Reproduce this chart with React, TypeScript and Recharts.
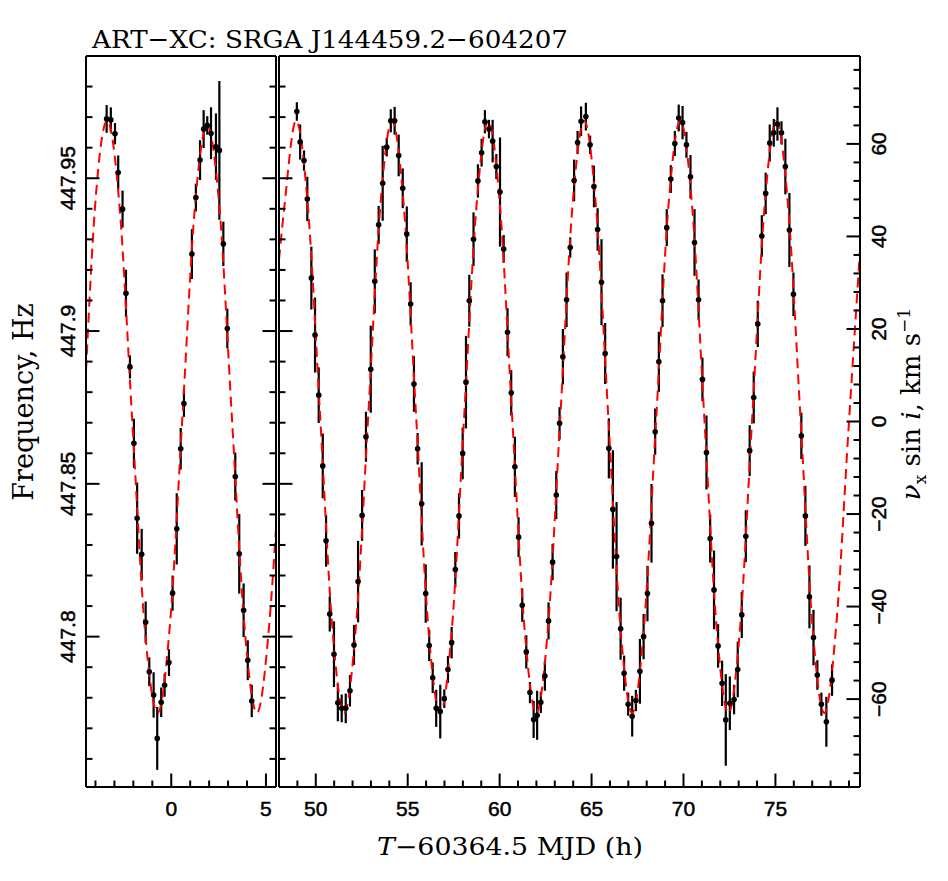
import { ComposedChart, XAxis, YAxis, Scatter, Line, ErrorBar } from "recharts";

// ---- measured points: time (h), velocity (km/s), 1-sigma error (km/s) ----
const leftTime = [
  -3.41, -3.19, -2.97, -2.8, -2.57, -2.39, -2.18, -1.97, -1.8, -1.56, -1.35, -1.16,
  -0.93, -0.74, -0.53, -0.35, -0.12, 0.07, 0.29, 0.5, 0.67, 1.09, 1.3, 1.52, 1.71,
  1.9, 2.1, 2.36, 2.54, 2.75, 2.96, 3.38, 3.59, 3.82, 4.04, 4.25,
];
const leftVel = [
  65.4, 65.2, 62.2, 53.8, 45.9, 27.7, 11.8, -4.7, -20.9, -28.7, -43.4, -54.1,
  -59.1, -68.5, -60.7, -57.0, -52.1, -37.1, -23.2, -5.9, 3.9, 36.2, 48.4, 56.5, 63.2,
  64.0, 62.3, 59.4, 58.6, 38.4, 20.1, -11.9, -28.6, -40.8, -51.6, -60.4,
];
const leftErr = [
  3.0, 2.7, 2.3, 3.7, 4.0, 5.1, 2.5, 5.3, 7.7, 5.5, 4.5, 3.1,
  4.9, 6.8, 3.2, 2.5, 2.9, 3.8, 7.7, 4.5, 2.9, 5.4, 3.0, 4.3, 4.1,
  2.0, 5.6, 7.2, 15.0, 4.8, 4.3, 5.2, 8.6, 5.8, 4.3, 3.5,
];

const rightTime = [
  48.97, 49.15, 49.36, 49.54, 49.76, 49.96, 50.16, 50.38, 50.56, 50.76, 50.99, 51.2,
  51.41, 51.63, 51.86, 52.08, 52.3, 52.52, 52.73, 52.99, 53.21, 53.42, 53.64, 53.86,
  54.08, 54.29, 54.51, 54.73, 54.95, 55.16, 55.34, 55.54, 55.76, 55.98, 56.17, 56.36,
  56.55, 56.77, 56.99, 57.19, 57.39, 57.59, 57.79, 57.99, 58.17, 58.35, 58.58, 58.82,
  59.02, 59.2, 59.42, 59.62, 59.82, 60.02, 60.22, 60.43, 60.63, 60.83, 61.03, 61.23,
  61.45, 61.65, 61.85, 62.04, 62.24, 62.46, 62.66, 62.88, 63.08, 63.26, 63.44, 63.64,
  63.84, 64.05, 64.24, 64.43, 64.69, 64.92, 65.13, 65.33, 65.54, 65.74, 65.94, 66.16,
  66.36, 66.58, 66.77, 66.99, 67.21, 67.41, 67.63, 67.83, 68.04, 68.26, 68.46, 68.66,
  68.86, 69.09, 69.31, 69.53, 69.74, 69.95, 70.16, 70.38, 70.6, 70.82, 71.03, 71.25,
  71.45, 71.66, 71.88, 72.1, 72.3, 72.52, 72.75, 72.95, 73.17, 73.39, 73.6, 73.82,
  74.04, 74.26, 74.47, 74.69, 74.91, 75.11, 75.33, 75.54, 75.76, 75.98, 76.41, 76.63,
  76.85, 77.07, 77.28, 77.5, 77.77, 78.08,
];
const rightVel = [
  67.0, 60.4, 56.4, 48.1, 31.0, 18.7, 5.7, -9.6, -25.8, -41.6, -50.3, -60.8,
  -62.0, -62.0, -58.2, -48.3, -34.6, -20.3, -3.3, 11.3, 30.3, 42.5, 51.5, 59.3,
  65.0, 65.0, 57.5, 50.4, 40.5, 25.4, 8.1, -5.9, -17.8, -37.2, -48.4, -55.4,
  -62.0, -62.7, -59.9, -53.6, -47.8, -32.0, -20.4, -6.9, 8.5, 26.1, 39.4, 52.0,
  58.1, 64.8, 63.2, 60.6, 55.1, 49.6, 37.3, 19.3, 6.2, -9.8, -25.0, -39.7,
  -49.8, -58.6, -64.4, -63.5, -60.7, -55.0, -43.1, -30.4, -15.9, -0.4, 14.0, 26.3,
  37.6, 52.1, 60.3, 64.9, 65.9, 59.8, 50.8, 41.5, 30.1, 14.7, -5.8, -19.0,
  -29.2, -44.8, -54.4, -61.1, -63.7, -60.3, -54.0, -46.5, -37.2, -22.0, -2.2, 12.9,
  26.1, 41.9, 52.4, 60.1, 65.6, 64.6, 59.8, 52.9, 38.7, 26.3, 9.1, -6.7,
  -25.3, -36.4, -48.5, -56.6, -64.5, -60.9, -60.1, -53.6, -41.8, -24.8, -6.3, 5.2,
  21.1, 40.1, 49.3, 60.2, 62.4, 64.3, 62.4, 55.1, 41.4, 27.5, -3.1, -20.4,
  -37.9, -46.7, -54.8, -61.1, -64.9, -55.9,
];
const rightErr = [
  2.0, 3.8, 2.2, 4.8, 6.8, 8.1, 6.0, 7.0, 5.6, 3.8, 7.1, 4.0,
  3.0, 3.2, 3.4, 4.3, 8.8, 5.5, 5.4, 9.4, 6.9, 4.1, 8.1, 2.0,
  2.5, 3.0, 4.5, 4.3, 6.0, 4.7, 6.0, 3.4, 9.0, 6.3, 3.4, 3.3,
  4.0, 5.8, 2.0, 2.9, 3.4, 3.8, 4.9, 5.6, 10.0, 5.6, 5.8, 3.6,
  3.0, 2.5, 2.0, 4.6, 2.7, 11.8, 3.0, 5.2, 4.9, 6.5, 4.3, 3.6,
  3.6, 2.3, 4.0, 5.3, 2.3, 3.2, 4.0, 3.9, 5.2, 3.5, 6.0, 5.9,
  2.2, 4.5, 2.5, 3.2, 3.0, 2.0, 4.5, 4.6, 9.3, 6.6, 6.5, 12.8,
  11.8, 6.7, 3.8, 2.5, 4.4, 2.3, 7.0, 4.9, 6.0, 8.5, 5.0, 6.5,
  5.7, 4.0, 3.0, 2.7, 2.9, 3.6, 2.8, 4.7, 7.2, 4.4, 4.7, 8.0,
  5.2, 8.5, 4.7, 4.9, 9.9, 5.8, 3.2, 6.0, 5.0, 5.6, 5.5, 5.6,
  5.0, 4.5, 4.5, 4.0, 3.0, 3.6, 2.5, 6.0, 8.0, 4.7, 5.0, 6.5,
  6.8, 6.0, 3.2, 2.5, 5.4, 3.4,
];

// ---- orbital model curve ----
const modelLeftTime = [-4.5, -4.03, -3.38, -2.72, -2.07, -1.41, -0.72, -0.07, 0.59, 1.24, 1.89, 2.55, 3.2, 3.86, 4.52, 5.17, 5.55];
const modelLeftVel = [11, 46, 65, 46, 1, -44, -63, -44, 1, 46, 64, 46, 1, -44, -63, -44, -22];
const modelRightTime = [
  48.0, 48.28, 48.93, 49.58, 50.24, 50.89, 51.54, 52.19, 52.85, 53.5, 54.15, 54.8,
  55.46, 56.11, 56.77, 57.42, 58.07, 58.73, 59.38, 60.03, 60.68, 61.34, 61.99, 62.64,
  63.3, 63.95, 64.6, 65.25, 65.91, 66.56, 67.21, 67.86, 68.52, 69.17, 69.83, 70.48,
  71.13, 71.79, 72.44, 73.09, 73.74, 74.4, 75.05, 75.7, 76.36, 77.01, 77.66, 78.31,
  78.97, 79.6,
];
const modelRightVel = [
  35, 46, 65, 46, 1, -44, -63, -44, 1, 46, 65, 46,
  1, -44, -63, -44, 1, 46, 65, 46, 1, -44, -63, -44,
  1, 46, 65, 46, 1, -44, -63, -44, 1, 46, 65, 46,
  1, -44, -63, -44, 1, 46, 65, 46, 1, -44, -63, -44,
  -2, 37,
];

// ---- axes ----
const leftXDomain = [-4.5, 5.53];
const rightXDomain = [48, 79.6];
const velDomain = [-79, 79];
const freqDomain = [447.7508, 447.99];
const leftXTicks = [-4, -3, -2, -1, 0, 1, 2, 3, 4, 5];
const leftXLabels = [0, 5];
const rightXTicks = [
  49, 50, 51, 52, 53, 54, 55, 56, 57, 58, 59, 60, 61, 62, 63, 64, 65, 66, 67, 68, 69,
  70, 71, 72, 73, 74, 75, 76, 77, 78, 79,
];
const rightXLabels = [50, 55, 60, 65, 70, 75];
const freqTicks = [
  447.76, 447.77, 447.78, 447.79, 447.8, 447.81, 447.82, 447.83, 447.84, 447.85, 447.86,
  447.87, 447.88, 447.89, 447.9, 447.91, 447.92, 447.93, 447.94, 447.95, 447.96, 447.97, 447.98,
];
const freqLabels = [447.8, 447.85, 447.9, 447.95];
const velTicks = [
  -76, -72, -68, -64, -60, -56, -52, -48, -44, -40, -36, -32, -28, -24, -20, -16, -12, -8, -4,
  0, 4, 8, 12, 16, 20, 24, 28, 32, 36, 40, 44, 48, 52, 56, 60, 64, 68, 72, 76,
];
const velLabels = [-60, -40, -20, 0, 20, 40, 60];

const rows = (t: number[], v: number[], e?: number[]) =>
  t.map((x, i) => ({ t: x, v: v[i], e: e ? e[i] : 0 }));

const leftPoints = rows(leftTime, leftVel, leftErr);
const rightPoints = rows(rightTime, rightVel, rightErr);
const leftModel = rows(modelLeftTime, modelLeftVel);
const rightModel = rows(modelRightTime, modelRightVel);

const ink = "#000";
const tickFont = {
  fontFamily: "'Liberation Sans', Arial, sans-serif",
  fontSize: 21,
  fill: ink,
  stroke: ink,
  strokeWidth: 0.5,
};
const labelFont = "'DejaVu Serif', serif";
const MAJOR = 13.5;
const MINOR = 6.5;

const fmt = (v: number) => (v < 0 ? "\u2212" + Math.abs(v) : String(v));
const isIn = (list: number[], v: number) => list.some((m) => Math.abs(m - v) < 1e-9);

// ticks point inward, PGPLOT style
const xTick = (labels: number[], side: "top" | "bottom") => (props: any) => {
  const { x, y, payload } = props;
  const major = isIn(labels, payload.value);
  const dir = side === "bottom" ? -1 : 1;
  return (
    <g>
      <line x1={x} x2={x} y1={y} y2={y + dir * (major ? MAJOR : MINOR)} stroke={ink} strokeWidth={2} />
      {major && side === "bottom" && (
        <text x={x} y={y + 21} textAnchor="middle" dominantBaseline="central" style={tickFont}>
          {fmt(payload.value)}
        </text>
      )}
    </g>
  );
};

const yTick = (labels: number[], side: "left" | "right", showText: boolean) => (props: any) => {
  const { x, y, payload } = props;
  const major = isIn(labels, payload.value);
  const dir = side === "left" ? 1 : -1;
  const tx = x - dir * 18.5;
  return (
    <g>
      <line x1={x} x2={x + dir * (major ? MAJOR : MINOR)} y1={y} y2={y} stroke={ink} strokeWidth={2} />
      {major && showText && (
        <text
          x={tx}
          y={y}
          transform={`rotate(-90, ${tx}, ${y})`}
          textAnchor="middle"
          dominantBaseline="central"
          style={tickFont}
        >
          {fmt(payload.value)}
        </text>
      )}
    </g>
  );
};

const frame = { stroke: ink, strokeWidth: 2 };
const dot = (p: any) => <circle cx={p.cx} cy={p.cy} r={2.8} fill={ink} />;

export default function App() {
  return (
    <div style={{ position: "absolute", left: 0, top: 0, width: 948, height: 881, background: "#fff" }}>
      <div style={{ position: "absolute", left: 0, top: 0 }}>
        <ComposedChart width={280} height={881} margin={{ top: 0, right: 0, bottom: 0, left: 0 }}>
          <XAxis xAxisId="b" dataKey="t" type="number" domain={leftXDomain} allowDataOverflow ticks={leftXTicks}
            interval={0} height={94} tickSize={0} tickMargin={0} axisLine={frame} tickLine={false}
            tick={xTick(leftXLabels, "bottom")} />
          <XAxis xAxisId="tp" orientation="top" type="number" domain={leftXDomain} allowDataOverflow ticks={leftXTicks}
            interval={0} height={56} tickSize={0} tickMargin={0} axisLine={frame} tickLine={false}
            tick={xTick(leftXLabels, "top")} />
          <YAxis yAxisId="fl" type="number" domain={freqDomain} allowDataOverflow ticks={freqTicks} interval={0}
            width={86} tickSize={0} tickMargin={0} axisLine={frame} tickLine={false}
            tick={yTick(freqLabels, "left", true)} />
          <YAxis yAxisId="fr" orientation="right" type="number" domain={freqDomain} allowDataOverflow ticks={freqTicks}
            interval={0} width={4} tickSize={0} tickMargin={0} axisLine={frame} tickLine={false}
            tick={yTick(freqLabels, "right", false)} />
          <YAxis yAxisId="v" dataKey="v" type="number" domain={velDomain} allowDataOverflow hide />
          <Scatter xAxisId="b" yAxisId="v" data={leftPoints} dataKey="v" shape={dot} isAnimationActive={false}>
            <ErrorBar dataKey="e" direction="y" width={0} stroke={ink} strokeWidth={2.2} isAnimationActive={false} />
          </Scatter>
          <Line xAxisId="b" yAxisId="v" data={leftModel} dataKey="v" type="monotone" dot={false} activeDot={false}
            stroke="#ff0000" strokeWidth={2} strokeDasharray="10 6" isAnimationActive={false} />
        </ComposedChart>
      </div>
      <div style={{ position: "absolute", left: 270, top: 0 }}>
        <ComposedChart width={678} height={881} margin={{ top: 0, right: 0, bottom: 0, left: 0 }}>
          <XAxis xAxisId="b" dataKey="t" type="number" domain={rightXDomain} allowDataOverflow ticks={rightXTicks}
            interval={0} height={94} tickSize={0} tickMargin={0} axisLine={frame} tickLine={false}
            tick={xTick(rightXLabels, "bottom")} />
          <XAxis xAxisId="tp" orientation="top" type="number" domain={rightXDomain} allowDataOverflow ticks={rightXTicks}
            interval={0} height={56} tickSize={0} tickMargin={0} axisLine={frame} tickLine={false}
            tick={xTick(rightXLabels, "top")} />
          <YAxis yAxisId="fl" type="number" domain={freqDomain} allowDataOverflow ticks={freqTicks} interval={0}
            width={9} tickSize={0} tickMargin={0} axisLine={frame} tickLine={false}
            tick={yTick(freqLabels, "left", false)} />
          <YAxis yAxisId="v" dataKey="v" orientation="right" type="number" domain={velDomain} allowDataOverflow
            ticks={velTicks} interval={0} width={88} tickSize={0} tickMargin={0} axisLine={frame} tickLine={false}
            tick={yTick(velLabels, "right", true)} />
          <Scatter xAxisId="b" yAxisId="v" data={rightPoints} dataKey="v" shape={dot} isAnimationActive={false}>
            <ErrorBar dataKey="e" direction="y" width={0} stroke={ink} strokeWidth={2.2} isAnimationActive={false} />
          </Scatter>
          <Line xAxisId="b" yAxisId="v" data={rightModel} dataKey="v" type="monotone" dot={false} activeDot={false}
            stroke="#ff0000" strokeWidth={2} strokeDasharray="10 6" isAnimationActive={false} />
        </ComposedChart>
      </div>
      <svg width={948} height={881} style={{ position: "absolute", left: 0, top: 0, pointerEvents: "none" }}>
        <text x={92} y={48} fontFamily={labelFont} fontSize={25} fill={ink} textLength={476} lengthAdjust="spacingAndGlyphs">
          ART{"\u2212"}XC: SRGA J144459.2{"\u2212"}604207
        </text>
        <text x={377} y={855} fontFamily={labelFont} fontSize={24} fill={ink} textLength={266} lengthAdjust="spacingAndGlyphs">
          <tspan fontStyle="italic">T</tspan>
          <tspan>{"\u2212"}60364.5 MJD (h)</tspan>
        </text>
        <text x={33} y={402} transform="rotate(-90, 33, 402)" textAnchor="middle" fontFamily={labelFont} fontSize={27} fill={ink}>
          Frequency, Hz
        </text>
        <text x={920} y={404} transform="rotate(-90, 920, 404)" textAnchor="middle" fontFamily={labelFont} fontSize={26} fill={ink}>
          <tspan fontStyle="italic">{"\u03bd"}</tspan>
          <tspan dy={6} fontSize={17}>x</tspan>
          <tspan dy={-6}> sin </tspan>
          <tspan fontStyle="italic">i</tspan>
          <tspan>, km s</tspan>
          <tspan dy={-10} fontSize={17}>{"\u22121"}</tspan>
        </text>
      </svg>
    </div>
  );
}
